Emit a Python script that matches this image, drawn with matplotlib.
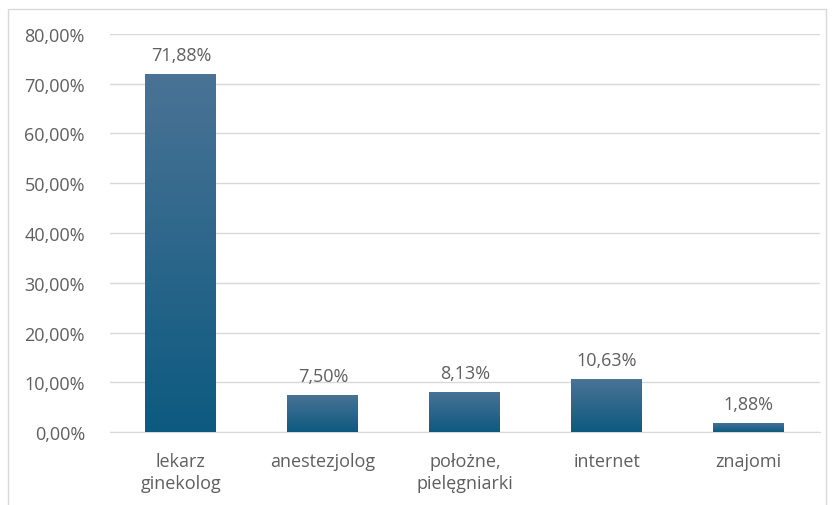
import matplotlib
matplotlib.use("Agg")
import matplotlib.pyplot as plt
import numpy as np
from matplotlib.colors import LinearSegmentedColormap
from matplotlib.patches import Rectangle
from matplotlib.ticker import FuncFormatter

categories = ["lekarz\nginekolog", "anestezjolog", "położne,\npielęgniarki", "internet", "znajomi"]
values = [71.88, 7.50, 8.13, 10.63, 1.88]
labels = ["71,88%", "7,50%", "8,13%", "10,63%", "1,88%"]

plt.rcParams['font.family'] = ['Open Sans', 'DejaVu Sans']
grey = "#5f5f5f"
fs = 13

fig = plt.figure(figsize=(8.33, 5.06), dpi=100)
ax = fig.add_axes([0.132, 0.144, 0.852, 0.787])

# light frame round the chart
fig.patches.append(Rectangle((8 / 833, -0.01), 818 / 833, 1 - 10 / 506 + 0.01,
                             transform=fig.transFigure, fill=False,
                             edgecolor="#d9d9d9", linewidth=1))

x = np.arange(len(categories))
bars = ax.bar(x, values, 0.5, color="none", zorder=3)

cmap = LinearSegmentedColormap.from_list("g", ["#0d5a80", "#4a7395"])
grad = np.linspace(0, 1, 256).reshape(-1, 1)
for b in bars:
    x0, y0 = b.get_x(), b.get_y()
    w, h = b.get_width(), b.get_height()
    im = ax.imshow(grad, cmap=cmap, aspect="auto", origin="lower",
                   extent=[x0, x0 + w, y0, y0 + h], zorder=3)
    im.set_clip_path(b)

for xi, v, s in zip(x, values, labels):
    ax.text(xi, v + 2.0, s, ha="center", va="bottom", fontsize=fs, color=grey)

ax.set_xlim(-0.5, len(categories) - 0.5)
ax.set_ylim(0, 80)
ax.set_yticks(np.arange(0, 81, 10))
ax.yaxis.set_major_formatter(FuncFormatter(lambda v, p: f"{v:.2f}%".replace(".", ",")))
ax.set_xticks(x)
ax.set_xticklabels(categories, fontsize=fs, color=grey, linespacing=1.35)
ax.tick_params(axis="y", labelsize=fs, colors=grey, length=0, pad=18)
ax.tick_params(axis="x", length=0, pad=14)

ax.grid(axis="y", color="#d9d9d9", linewidth=1, zorder=0)
for side in ["top", "right", "left"]:
    ax.spines[side].set_visible(False)
ax.spines["bottom"].set_color("#d9d9d9")

plt.savefig("out.png", dpi=100)
